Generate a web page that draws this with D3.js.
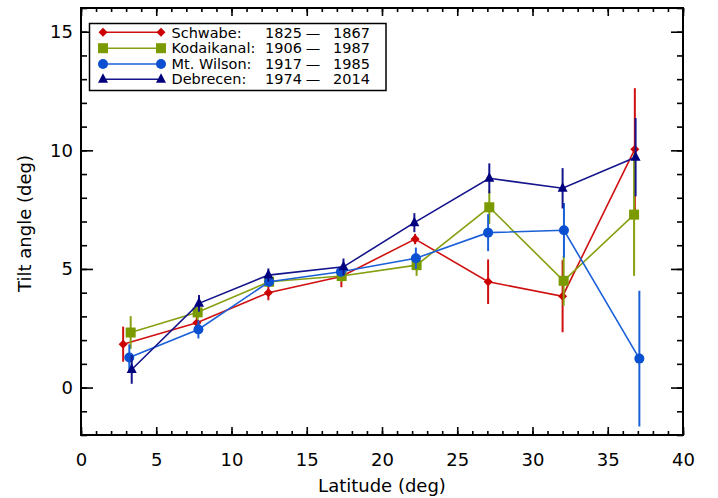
<!DOCTYPE html>
<html>
<head>
<meta charset="utf-8">
<script src="https://cdn.jsdelivr.net/npm/d3@7"></script>
<style>
  html, body { margin: 0; padding: 0; background: #fff; }
  svg { display: block; }
  text { font-family: "DejaVu Sans", Verdana, sans-serif; font-weight: normal; fill: #000; }
</style>
</head>
<body>
<svg id="chart" width="718" height="498"></svg>
<script>
// ---- data ----
const seriesNames = ["Schwabe:", "Kodaikanal:", "Mt. Wilson:", "Debrecen:"];
const startYears = ["1825", "1906", "1917", "1974"];
const endYears = ["1867", "1987", "1985", "2014"];

const schwabeLat = [2.8, 7.7, 12.45, 17.3, 22.2, 27.05, 32.0, 36.8];
const schwabeTilt = [1.83, 2.73, 4.0, 4.68, 6.26, 4.46, 3.85, 10.05];
const schwabeErr = [0.74, 0.36, 0.32, 0.45, 0.22, 0.94, 1.52, 2.57];

const kodaiLat = [3.3, 7.75, 12.5, 17.32, 22.3, 27.13, 32.07, 36.75];
const kodaiTilt = [2.32, 3.17, 4.46, 4.7, 5.16, 7.6, 4.5, 7.29];
const kodaiErr = [0.69, 0.32, 0.2, 0.25, 0.45, 0.7, 1.05, 2.58];

const wilsonLat = [3.21, 7.8, 12.5, 17.27, 22.25, 27.05, 32.09, 37.1];
const wilsonTilt = [1.27, 2.45, 4.46, 4.88, 5.45, 6.53, 6.63, 1.22];
const wilsonErr = [0.55, 0.38, 0.2, 0.2, 0.45, 0.78, 1.15, 2.86];

const debrecenLat = [3.37, 7.84, 12.45, 17.44, 22.15, 27.13, 32.0, 36.85];
const debrecenTilt = [0.76, 3.55, 4.74, 5.09, 6.95, 8.82, 8.4, 9.71];
const debrecenErr = [0.6, 0.35, 0.28, 0.35, 0.4, 0.63, 0.85, 1.65];

const xMajorTicks = [0, 5, 10, 15, 20, 25, 30, 35, 40];
const yMajorTicks = [0, 5, 10, 15];
const xLabel = "Latitude (deg)";
const yLabel = "Tilt angle (deg)";

// ---- layout ----
const svg = d3.select("#chart");
const L = 81, R = 683, T = 8, B = 435;
const x = d3.scaleLinear().domain([0, 40]).range([L, R]);
const y = d3.scaleLinear().domain([-2, 16]).range([B, T]);

const colors = ["#cc0000", "#7a9a00", "#0a50d0", "#00007f"];
const lineColors = ["#d01010", "#86a010", "#1a60d8", "#14148c"];
const shapes = ["diamond", "square", "circle", "triangle"];

const series = [
  { lat: schwabeLat, tilt: schwabeTilt, err: schwabeErr },
  { lat: kodaiLat, tilt: kodaiTilt, err: kodaiErr },
  { lat: wilsonLat, tilt: wilsonTilt, err: wilsonErr },
  { lat: debrecenLat, tilt: debrecenTilt, err: debrecenErr }
].map((s, i) => ({
  name: seriesNames[i], i,
  pts: s.lat.map((v, j) => ({ lat: v, tilt: s.tilt[j], err: s.err[j] }))
}));

function marker(sel, shape, color) {
  if (shape === "diamond") {
    sel.append("path").attr("d", "M0,-4.5L4.5,0L0,4.5L-4.5,0Z").attr("fill", color);
  } else if (shape === "square") {
    sel.append("rect").attr("x", -5).attr("y", -5).attr("width", 10).attr("height", 10).attr("fill", color);
  } else if (shape === "circle") {
    sel.append("circle").attr("r", 5).attr("fill", color);
  } else {
    sel.append("path").attr("d", "M0,-6L5,3.5L-5,3.5Z").attr("fill", color);
  }
}

// ---- series ----
const line = d3.line().x(d => x(d.lat)).y(d => y(d.tilt));
series.forEach(s => {
  const g = svg.append("g");
  g.append("path").datum(s.pts).attr("d", line)
    .attr("fill", "none").attr("stroke", lineColors[s.i]).attr("stroke-width", 1.6);
  g.selectAll("line.err").data(s.pts).join("line")
    .attr("x1", d => x(d.lat)).attr("x2", d => x(d.lat))
    .attr("y1", d => y(d.tilt - d.err)).attr("y2", d => y(d.tilt + d.err))
    .attr("stroke", lineColors[s.i]).attr("stroke-width", 2);
  s.pts.forEach(d => {
    const m = g.append("g").attr("transform", `translate(${x(d.lat)},${y(d.tilt)})`);
    marker(m, shapes[s.i], colors[s.i]);
  });
});

// ---- axes ----
const xMinor = d3.range(0, 41);
const yMinor = d3.range(-2, 17);
svg.append("g").attr("transform", `translate(0,${B})`)
  .call(d3.axisBottom(x).tickValues(xMinor).tickSize(-4).tickFormat(""));
svg.append("g").attr("transform", `translate(0,${B})`)
  .call(d3.axisBottom(x).tickValues(xMajorTicks).tickSize(-8).tickPadding(18).tickFormat(d3.format("d")));
svg.append("g").attr("transform", `translate(0,${T})`)
  .call(d3.axisTop(x).tickValues(xMinor).tickSize(-4).tickFormat(""));
svg.append("g").attr("transform", `translate(0,${T})`)
  .call(d3.axisTop(x).tickValues(xMajorTicks).tickSize(-8).tickFormat(""));
svg.append("g").attr("transform", `translate(${L},0)`)
  .call(d3.axisLeft(y).tickValues(yMinor).tickSize(-6).tickFormat(""));
svg.append("g").attr("transform", `translate(${L},0)`)
  .call(d3.axisLeft(y).tickValues(yMajorTicks).tickSize(-12).tickPadding(8).tickFormat(d3.format("d")));
svg.append("g").attr("transform", `translate(${R},0)`)
  .call(d3.axisRight(y).tickValues(yMinor).tickSize(-6).tickFormat(""));
svg.append("g").attr("transform", `translate(${R},0)`)
  .call(d3.axisRight(y).tickValues(yMajorTicks).tickSize(-12).tickFormat(""));

svg.selectAll(".domain").remove();
svg.selectAll(".tick line").attr("stroke", "#000").attr("stroke-width", 1.6);
svg.selectAll(".tick text").attr("font-size", 18).attr("fill", "#000")
  .style("font-family", '"DejaVu Sans", Verdana, sans-serif').style("font-weight", "normal");

svg.append("rect").attr("x", L).attr("y", T).attr("width", R - L).attr("height", B - T)
  .attr("fill", "none").attr("stroke", "#000").attr("stroke-width", 2);

// axis titles
svg.append("text").attr("x", (L + R) / 2).attr("y", 492).attr("text-anchor", "middle")
  .attr("font-size", 18).text(xLabel);
svg.append("text").attr("transform", `translate(31,${(T + B) / 2 + 2}) rotate(-90)`)
  .attr("text-anchor", "middle").attr("font-size", 18).text(yLabel);

// ---- legend ----
const lg = svg.append("g");
lg.append("rect").attr("x", 89.5).attr("y", 23.5).attr("width", 296.5).attr("height", 67)
  .attr("fill", "#fff").attr("stroke", "#000").attr("stroke-width", 1.5);
const rowY = [32.3, 48.2, 64, 79.2];
series.forEach(s => {
  const ry = rowY[s.i];
  lg.append("line").attr("x1", 103).attr("x2", 161).attr("y1", ry).attr("y2", ry)
    .attr("stroke", lineColors[s.i]).attr("stroke-width", 1.6);
  [103, 161].forEach(px => {
    const m = lg.append("g").attr("transform", `translate(${px},${ry})`);
    marker(m, shapes[s.i], colors[s.i]);
  });
  lg.append("text").attr("x", 171.5).attr("y", ry).attr("dy", "0.36em")
    .attr("font-size", 14.5).text(s.name);
  lg.append("text").attr("x", 265).attr("y", ry).attr("dy", "0.36em")
    .attr("font-size", 14.5).text(startYears[s.i]);
  lg.append("text").attr("x", 313).attr("y", ry).attr("dy", "0.36em").attr("text-anchor", "middle")
    .attr("font-size", 14.5).text("\u2014");
  lg.append("text").attr("x", 333).attr("y", ry).attr("dy", "0.36em")
    .attr("font-size", 14.5).text(endYears[s.i]);
});
</script>
</body>
</html>
